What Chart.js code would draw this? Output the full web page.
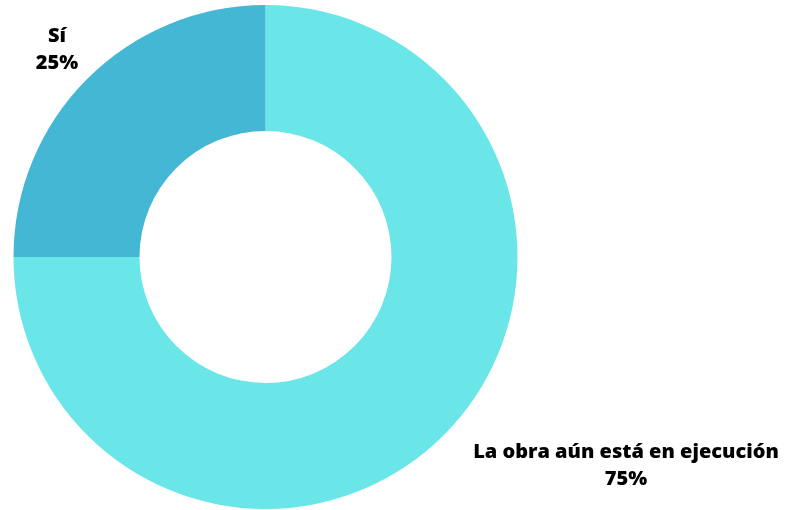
<!DOCTYPE html>
<html>
<head>
<meta charset="utf-8">
<script src="https://cdn.jsdelivr.net/npm/chart.js@4"></script>
<style>
html,body{margin:0;padding:0;background:#fff;}
#wrap{position:relative;width:799px;height:510px;}
</style>
</head>
<body>
<div id="wrap"><canvas id="c" width="799" height="510"></canvas></div>
<script>
const categories = ["La obra aún está en ejecución", "Sí"];
const values = [75, 25];
const percentLabels = ["75%", "25%"];
const colors = ["#6ae6e9", "#43b7d4"];

const labelPlugin = {
  id: 'outerLabels',
  afterDraw(chart) {
    const ctx = chart.ctx;
    const pos = [[626, 452], [57, 36]];
    ctx.save();
    ctx.font = "800 20px 'Open Sans'";
    ctx.fillStyle = "#000";
    ctx.textAlign = "center";
    ctx.textBaseline = "middle";
    categories.forEach((c, i) => {
      ctx.fillText(c, pos[i][0], pos[i][1]);
      ctx.fillText(percentLabels[i], pos[i][0], pos[i][1] + 27);
    });
    ctx.restore();
  }
};

new Chart(document.getElementById('c'), {
  type: 'doughnut',
  data: {
    labels: categories,
    datasets: [{
      data: values,
      backgroundColor: colors,
      borderWidth: 0
    }]
  },
  options: {
    responsive: false,
    animation: false,
    cutout: '50%',
    layout: { padding: { top: 5, bottom: 1, left: 13, right: 281 } },
    plugins: { legend: { display: false }, tooltip: { enabled: false } }
  },
  plugins: [labelPlugin]
});
</script>
</body>
</html>
